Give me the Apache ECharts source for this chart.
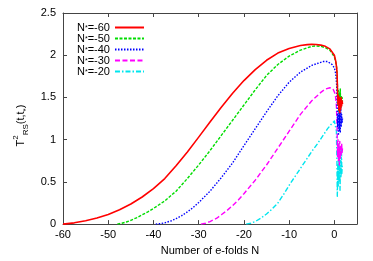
<!DOCTYPE html>
<html><head><meta charset="utf-8">
<script src="https://cdn.jsdelivr.net/npm/echarts@6/dist/echarts.min.js"></script>
<style>html,body{margin:0;padding:0;background:#fff}#c{width:373px;height:261px}</style>
</head><body><div id="c"></div>
<script>
// ---- data ----
const seriesLabels = ['-60', '-50', '-40', '-30', '-20'];
const xTickLabels = ['-60', '-50', '-40', '-30', '-20', '-10', '0'];
const yTickLabels = ['0', '0.5', '1', '1.5', '2', '2.5'];

const n60 = [-60,-57.5,-55,-52.5,-50,-47.5,-45,-42.5,-40,-37.5,-35,-32.5,-30,-27.5,-25,-22.5,-20,-17.5,-15,-12.5,-10,-7.5,-6,-5,-4,-3,-2,-1,0,0.3,0.5,0.6,0.7,0.8,0.9,1.0,1.1,1.2,1.3,1.4,1.5,1.6,1.7,1.8];
const t60 = [0,0.015,0.04,0.073,0.115,0.17,0.238,0.321,0.421,0.539,0.69,0.855,1.03,1.21,1.385,1.55,1.70,1.83,1.94,2.025,2.08,2.115,2.125,2.128,2.127,2.12,2.105,2.075,2.0,1.93,1.85,1.78,1.55,1.42,1.52,1.35,1.5,1.32,1.46,1.36,1.5,1.4,1.46,1.42];

const n50 = [-48,-47,-46,-45,-43.75,-42.5,-41.25,-40,-37.5,-35,-32.5,-30,-27.5,-25,-22.5,-20,-17.5,-15,-12.5,-10,-7.5,-5,-4,-3,-2,-1,0,0.3,0.5,0.6,0.7,0.8,0.9,1.0,1.1,1.2,1.3,1.4,1.5,1.6,1.7,1.8];
const t50 = [0,0.01,0.025,0.045,0.075,0.11,0.145,0.185,0.275,0.39,0.54,0.70,0.87,1.05,1.23,1.41,1.59,1.76,1.89,1.99,2.06,2.105,2.11,2.105,2.09,2.06,1.98,1.92,1.85,1.75,1.62,1.4,1.58,1.33,1.55,1.36,1.6,1.38,1.52,1.42,1.5,1.45];

const n40 = [-39.5,-38.5,-37.5,-36,-35,-33.75,-32.5,-31.25,-30,-27.5,-25,-22.5,-20,-17.5,-15,-12.5,-10,-7.5,-5,-2.5,-1.5,-0.5,0,0.3,0.5,0.6,0.7,0.8,0.9,1.0,1.1,1.2,1.3,1.4,1.5,1.6,1.7,1.8];
const t40 = [0,0.005,0.015,0.04,0.065,0.1,0.145,0.195,0.255,0.39,0.55,0.725,0.93,1.13,1.33,1.52,1.68,1.80,1.88,1.925,1.925,1.89,1.85,1.78,1.65,1.45,1.15,1.3,1.05,1.38,1.1,1.32,1.08,1.4,1.15,1.3,1.2,1.25];

const n30 = [-29.5,-28.5,-27.5,-26,-25,-23.75,-22.5,-21.25,-20,-17.5,-15,-12.5,-10,-7.5,-5,-3,-2,-1,-0.3,0.2,0.45,0.6,0.7,0.8,0.9,1.0,1.1,1.2,1.3,1.4,1.5,1.6,1.7,1.8];
const t30 = [0,0.01,0.03,0.07,0.11,0.16,0.22,0.285,0.36,0.52,0.70,0.90,1.10,1.30,1.46,1.56,1.60,1.615,1.60,1.54,1.4,1.15,0.8,1.0,0.75,0.95,0.7,0.98,0.78,0.92,0.82,0.96,0.85,0.9];

const n20 = [-19.5,-18.5,-17.5,-16.25,-15,-13.75,-12.5,-11.25,-10,-8.75,-7.5,-6.25,-5,-3.75,-2.5,-1.5,-0.75,0,0.3,0.45,0.55,0.65,0.75,0.85,0.95,1.05,1.15,1.25,1.35,1.45,1.55,1.65,1.75];
const t20 = [0,0.01,0.03,0.07,0.12,0.18,0.25,0.35,0.46,0.56,0.66,0.76,0.86,0.95,1.05,1.13,1.18,1.22,1.21,1.1,0.8,0.33,0.7,0.45,0.95,0.5,0.85,0.4,0.75,0.55,0.9,0.6,0.7];

// ---- chart ----
const zip = (a, b) => a.map((v, i) => [v, b[i]]);
const xs = [n60, n50, n40, n30, n20];
const ys = [t60, t50, t40, t30, t20];
const colors = ['#ff0000', '#00dd00', '#0000ff', '#ff00ff', '#00e5ee'];
const dashes = ['solid', [3, 1.5], [1.5, 1.5], [5, 2.5], [5, 2, 1.5, 2]];
const names = seriesLabels.map(s => 'N*=' + s);

const series = names.map((nm, i) => ({
  name: nm, type: 'line', xAxisIndex: 0, yAxisIndex: 0,
  data: zip(xs[i], ys[i]), symbol: 'none', smooth: false,
  lineStyle: { color: colors[i], width: i === 0 ? 1.6 : 1.4, type: dashes[i], join: 'round', cap: 'butt' },
  itemStyle: { color: colors[i] }, z: 10 - i
}));

const font = 'Liberation Sans, Arial, sans-serif';
const baseAxis = () => ({
  axisLine: { onZero: false, lineStyle: { color: '#444', width: 1 } },
  axisTick: { inside: true, length: 4, lineStyle: { color: '#444' } },
  splitLine: { show: false }
});
const chart = echarts.init(document.getElementById('c'), null, { renderer: 'canvas' });
chart.setOption({
  animation: false,
  backgroundColor: '#fff',
  grid: { left: 63, right: 16, top: 13, bottom: 33 },
  legend: {
    data: names, orient: 'vertical', left: 72, top: 17, align: 'right',
    itemWidth: 29, itemHeight: 8, itemGap: 0,
    itemStyle: { opacity: 0 },
    formatter: nm => '{n|N}{s|*}{n|' + nm.slice(2) + '}',
    textStyle: { fontFamily: font, fontSize: 11, color: '#000', lineHeight: 8,
      rich: { n: { fontFamily: font, fontSize: 11, lineHeight: 8 }, s: { fontFamily: font, fontSize: 7, lineHeight: 8, verticalAlign: 'bottom' } } }
  },
  xAxis: [
    Object.assign(baseAxis(), {
      type: 'value', position: 'bottom', min: -60, max: 5, interval: 10,
      name: 'Number of e-folds N', nameLocation: 'middle', nameGap: 20,
      nameTextStyle: { fontFamily: font, fontSize: 11, color: '#000' },
      axisLabel: { fontFamily: font, fontSize: 11, color: '#000', margin: 5, showMaxLabel: false,
        formatter: v => xTickLabels[Math.round((v + 60) / 10)] || '' }
    }),
    Object.assign(baseAxis(), {
      type: 'value', position: 'top', min: -60, max: 5, interval: 10, axisLabel: { show: false }
    })
  ],
  yAxis: [
    Object.assign(baseAxis(), {
      type: 'value', position: 'left', min: 0, max: 2.5, interval: 0.5,
      name: '{t|T}{p|2}{b|RS}{t|(t,t}{b|*}{t|)}', nameLocation: 'middle', nameGap: 33, nameRotate: 90,
      nameTextStyle: { fontFamily: font, fontSize: 11, color: '#000', padding: [0, 14, 0, 0],
        rich: {
          t: { fontFamily: font, fontSize: 11, lineHeight: 18, verticalAlign: 'middle' },
          p: { fontFamily: font, fontSize: 8, lineHeight: 18, verticalAlign: 'top' },
          b: { fontFamily: font, fontSize: 8, lineHeight: 18, verticalAlign: 'bottom' }
        } },
      axisLabel: { fontFamily: font, fontSize: 11, color: '#000', margin: 7,
        formatter: v => yTickLabels[Math.round(v / 0.5)] || '' }
    }),
    Object.assign(baseAxis(), {
      type: 'value', position: 'right', min: 0, max: 2.5, interval: 0.5, axisLabel: { show: false }
    })
  ],
  series: series
});
</script>
</body></html>
